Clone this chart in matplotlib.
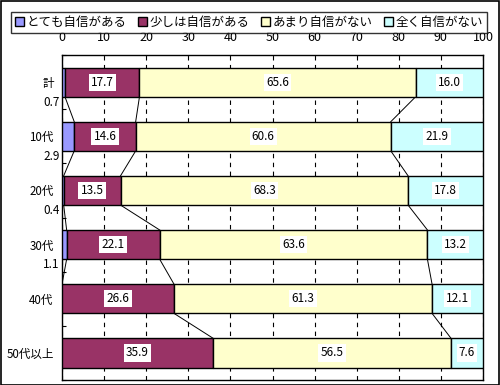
import matplotlib
matplotlib.use('Agg')
import matplotlib.pyplot as plt
import numpy as np

plt.rcParams['font.family'] = ['Noto Sans CJK JP', 'DejaVu Sans']

categories = ['計', '10代', '20代', '30代', '40代', '50代以上']
series_names = ['とても自信がある', '少しは自信がある', 'あまり自信がない', '全く自信がない']
very = [0.7, 2.9, 0.4, 1.1, 0.0, 0.0]
some = [17.7, 14.6, 13.5, 22.1, 26.6, 35.9]
little = [65.6, 60.6, 68.3, 63.6, 61.3, 56.5]
none_ = [16.0, 21.9, 17.8, 13.2, 12.1, 7.6]
colors = ['#9999FF', '#993366', '#FFFFCC', '#CCFFFF']

data = np.array([very, some, little, none_])
n = len(categories)
ypos = np.arange(n) + 0.5
bar_h = 0.54

fig = plt.figure(figsize=(5, 3.85), dpi=100)
ax = fig.add_axes([0.124, 0.013, 0.842, 0.844])

left = np.zeros(n)
for k in range(4):
    ax.barh(ypos, data[k], left=left, height=bar_h, color=colors[k],
            edgecolor='black', linewidth=1, label=series_names[k], zorder=3)
    # data labels
    for i in range(n):
        v = data[k][i]
        if k == 0:
            if v > 0:
                ax.text(-0.6, ypos[i] + 0.37, f'{v:.1f}', ha='right', va='center',
                        fontsize=8.5, zorder=5,
                        bbox=dict(facecolor='white', edgecolor='none', pad=1))
        else:
            ax.text(left[i] + v / 2, ypos[i], f'{v:.1f}', ha='center', va='center',
                    fontsize=8.5, zorder=5,
                    bbox=dict(facecolor='white', edgecolor='none', pad=1.5))
    left = left + data[k]

# series lines between bars
cum = np.cumsum(data, axis=0)
for k in range(3):
    for i in range(n - 1):
        ax.plot([cum[k][i], cum[k][i + 1]],
                [ypos[i] + bar_h / 2, ypos[i + 1] - bar_h / 2],
                color='black', linewidth=0.7, zorder=2)

ax.set_xlim(0, 100)
ax.set_ylim(n, 0)
ax.set_xticks(np.arange(0, 101, 10))
ax.xaxis.tick_top()
ax.tick_params(axis='x', length=0, labelsize=9, pad=8)
ax.set_yticks(np.arange(0, n + 1))
ax.set_yticklabels([])
ax.set_yticks(ypos, minor=True)
ax.set_yticklabels(categories, minor=True, fontsize=8.3)
ax.tick_params(axis='y', which='major', direction='in', length=3)
ax.tick_params(axis='y', which='minor', length=0, pad=6)
ax.grid(axis='x', linestyle=(0, (4, 4)), color='black', linewidth=0.8, zorder=1)
for s in ax.spines.values():
    s.set_linewidth(1)

leg = fig.legend(loc='upper left', ncol=4, fontsize=9,
                 frameon=True, fancybox=False, edgecolor='black', handlelength=0.7,
                 handleheight=0.7, handletextpad=0.2, columnspacing=2.0,
                 borderpad=0.3, mode='expand',
                 bbox_to_anchor=(0.01, 0.93, 0.976, 0.055),
                 bbox_transform=fig.transFigure)
leg.get_frame().set_linewidth(1)

fig.patches.append(plt.Rectangle((0.001, 0.001), 0.997, 0.997, transform=fig.transFigure,
                                 fill=False, edgecolor='black', linewidth=1.2))

plt.savefig('out.png', dpi=100)
